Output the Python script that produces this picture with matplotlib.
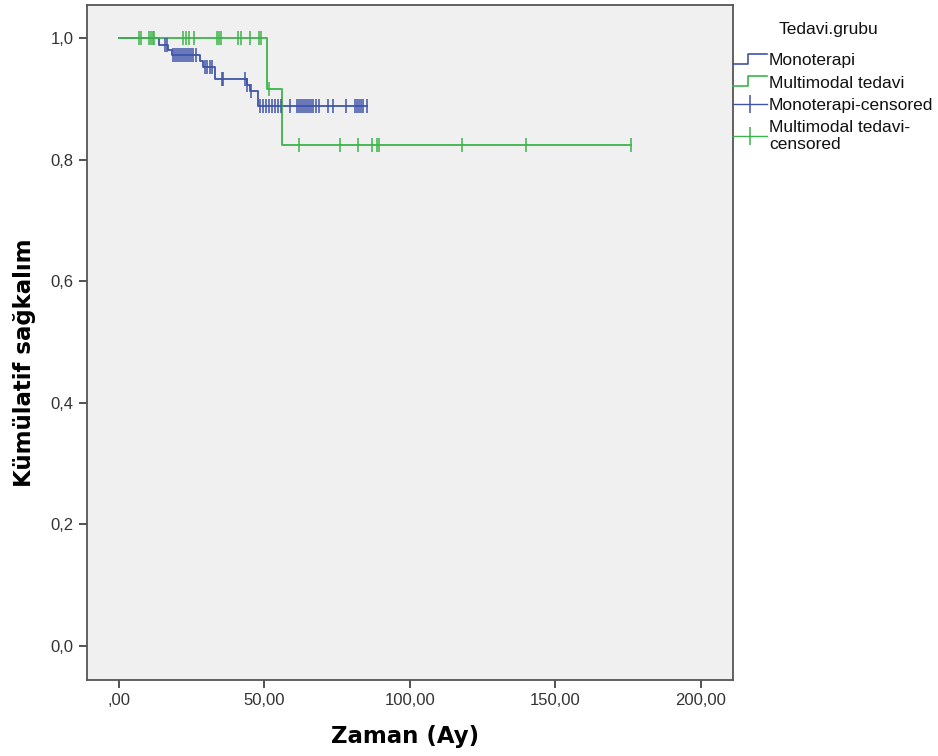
import numpy as np
import matplotlib
matplotlib.use("Agg")
import matplotlib.pyplot as plt
from matplotlib.lines import Line2D
from matplotlib.legend_handler import HandlerLine2D

# Kaplan-Meier steps (time in months, survival after event)
mono_event_t = [13.9, 17.0, 18.2, 27.9, 29.0, 33.0, 43.9, 45.0, 47.9]
mono_event_s = [0.989, 0.981, 0.972, 0.962, 0.953, 0.933, 0.923, 0.914, 0.889]
mono_cens_t = [15.8, 16.6, 18.7, 19.3, 20.0, 20.6, 21.3, 22.0, 22.7, 23.4, 24.1, 24.7,
               25.4, 26.5, 29.6, 30.3, 31.2, 31.9, 35.4, 35.9, 43.3, 44.0, 45.4,
               48.5, 49.5, 50.5, 51.6, 52.6, 53.6, 54.7, 55.7, 58.8, 61.2, 61.9,
               62.6, 63.3, 64.0, 64.6, 65.3, 66.0, 66.7, 67.7, 68.8, 71.9, 73.6,
               78.1, 81.2, 81.8, 82.5, 83.2, 83.9, 85.2]

multi_event_t = [50.8, 56.0]
multi_event_s = [0.917, 0.825]
multi_cens_t = [7.0, 7.7, 10.4, 10.9, 11.6, 12.0, 21.9, 23.0, 24.2, 25.8, 33.6, 34.3,
                35.0, 41.0, 42.1, 45.0, 48.3, 49.0, 51.5, 61.9, 76.0, 82.1, 87.1,
                88.8, 89.5, 117.9, 140.0, 176.1]

xticks = [0, 50, 100, 150, 200]
xtick_labels = [",00", "50,00", "100,00", "150,00", "200,00"]
yticks = [0.0, 0.2, 0.4, 0.6, 0.8, 1.0]
ytick_labels = ["0,0", "0,2", "0,4", "0,6", "0,8", "1,0"]

blue = "#3f54a8"
green = "#3cb44b"

plt.rcParams["font.family"] = ["Liberation Sans", "DejaVu Sans"]


def km_curve(ev_t, ev_s, end_t):
    x = [0.0]
    y = [1.0]
    for t, s in zip(ev_t, ev_s):
        x.append(t)
        y.append(s)
    x.append(end_t)
    y.append(ev_s[-1])
    return np.array(x), np.array(y)


def level_at(ev_t, ev_s, times):
    lev = np.concatenate([[1.0], ev_s])
    return lev[np.searchsorted(ev_t, times, side="right")]


class HandlerStep(HandlerLine2D):
    def create_artists(self, legend, orig_handle, xdescent, ydescent,
                       width, height, fontsize, trans):
        x0 = -xdescent
        ym = height / 2 - ydescent
        xs = [x0, x0 + width * 0.45, x0 + width * 0.45, x0 + width]
        ys = [ym - height * 0.4, ym - height * 0.4, ym + height * 0.45, ym + height * 0.45]
        ln = Line2D(xs, ys, color=orig_handle.get_color(), lw=1.2)
        ln.set_transform(trans)
        return [ln]


fig = plt.figure(figsize=(9.38, 7.56), dpi=100)
ax = fig.add_axes([0.0924, 0.1005, 0.6887, 0.8929])
ax.set_facecolor("#f0f0f0")

mx, my = km_curve(mono_event_t, mono_event_s, max(mono_cens_t))
gx, gy = km_curve(multi_event_t, multi_event_s, max(multi_cens_t))
ax.step(mx, my, where="post", color=blue, lw=1.3)
ax.step(gx, gy, where="post", color=green, lw=1.3)

mono_cens_y = level_at(mono_event_t, mono_event_s, mono_cens_t)
multi_cens_y = level_at(multi_event_t, multi_event_s, multi_cens_t)
ax.plot(mono_cens_t, mono_cens_y, ls="none", marker="|", ms=10, mew=1.1, color=blue)
ax.plot(multi_cens_t, multi_cens_y, ls="none", marker="|", ms=10, mew=1.1, color=green)

ax.set_xlim(-11.1, 211.0)
ax.set_ylim(-0.056, 1.055)
ax.set_xticks(xticks)
ax.set_xticklabels(xtick_labels)
ax.set_yticks(yticks)
ax.set_yticklabels(ytick_labels)
ax.tick_params(direction="out", length=6, width=1.3, colors="#444444",
               labelsize=12, labelcolor="#333333")
for sp in ax.spines.values():
    sp.set_color("#555555")
    sp.set_linewidth(1.3)

ax.set_xlabel("Zaman (Ay)", fontsize=16.5, fontweight="bold", family="DejaVu Sans")
ax.xaxis.set_label_coords(0.493, -0.066)
ax.set_ylabel("Kümülatif sağkalım", fontsize=16.5, fontweight="bold", family="DejaVu Sans")
ax.yaxis.set_label_coords(-0.078, 0.47)

fig.text(0.883, 0.961, "Tedavi.grubu", fontsize=12.5, ha="center", va="center",
         color="#111111")

h1 = Line2D([], [], color=blue)
h2 = Line2D([], [], color=green)
h3 = Line2D([], [], color=blue, marker="|", ms=13, mew=1.1, lw=1.0)
h4 = Line2D([], [], color=green, marker="|", ms=13, mew=1.1, lw=1.0)
leg = fig.legend([h1, h2, h3, h4],
                 ["Monoterapi", "Multimodal tedavi", "Monoterapi-censored",
                  "Multimodal tedavi-\ncensored"],
                 loc="upper left", bbox_to_anchor=(0.781, 0.93), frameon=False,
                 fontsize=12.5, handlelength=2.0, handletextpad=0.1,
                 labelspacing=0.42, borderaxespad=0, borderpad=0,
                 handler_map={h1: HandlerStep(), h2: HandlerStep()})
for t in leg.get_texts():
    t.set_color("#111111")
    t.set_linespacing(1.15)

fig.savefig("out.png", dpi=100)
